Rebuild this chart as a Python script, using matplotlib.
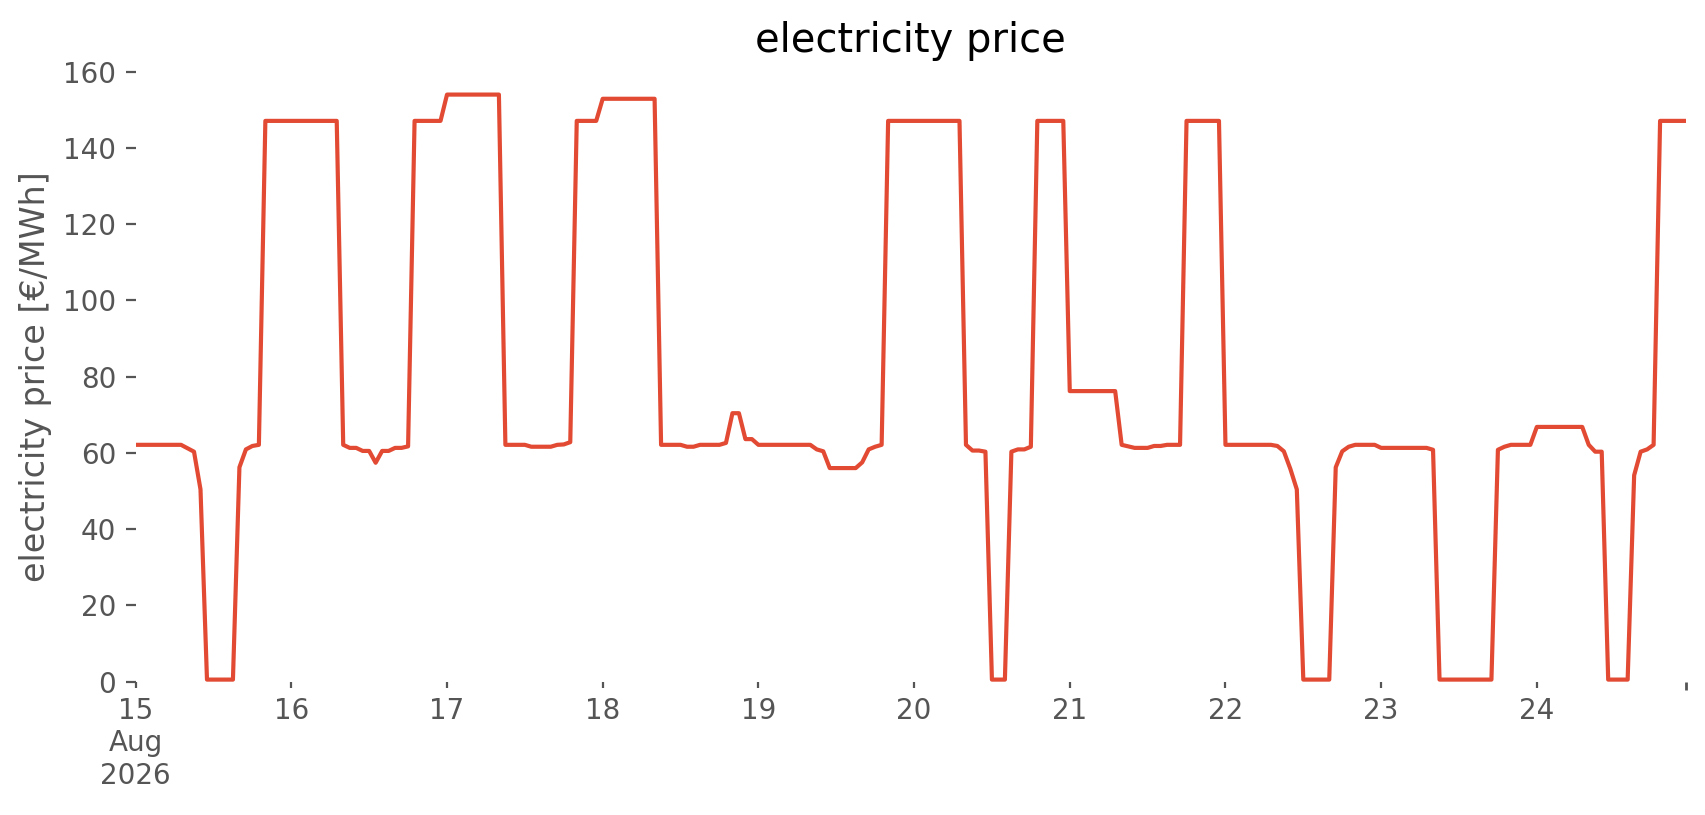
import numpy as np
import pandas as pd
import matplotlib
matplotlib.use("Agg")
import matplotlib.pyplot as plt
import matplotlib.dates as mdates

plt.style.use("ggplot")

# hourly price per day
aug15 = [62.1, 62.1, 62.1, 62.1, 62.1, 62.1, 62.1, 62.1, 61.2, 60.3, 50.4, 0.5,
         0.5, 0.5, 0.5, 0.5, 56.2, 60.9, 61.8, 62.1, 147.1, 147.1, 147.1, 147.1]
aug16 = [147.1, 147.1, 147.1, 147.1, 147.1, 147.1, 147.1, 147.1, 62.1, 61.3, 61.3, 60.5,
         60.5, 57.4, 60.5, 60.5, 61.3, 61.3, 61.7, 147.1, 147.1, 147.1, 147.1, 147.1]
aug17 = [154.0, 154.0, 154.0, 154.0, 154.0, 154.0, 154.0, 154.0, 154.0, 62.1, 62.1, 62.1,
         62.1, 61.6, 61.6, 61.6, 61.6, 62.1, 62.2, 62.8, 147.1, 147.1, 147.1, 147.1]
aug18 = [152.9, 152.9, 152.9, 152.9, 152.9, 152.9, 152.9, 152.9, 152.9, 62.1, 62.1, 62.1,
         62.1, 61.6, 61.6, 62.1, 62.1, 62.1, 62.1, 62.6, 70.4, 70.4, 63.6, 63.6]
aug19 = [62.1, 62.1, 62.1, 62.1, 62.1, 62.1, 62.1, 62.1, 62.1, 60.9, 60.4, 56.0,
         56.0, 56.0, 56.0, 56.0, 57.5, 60.9, 61.6, 62.1, 147.1, 147.1, 147.1, 147.1]
aug20 = [147.1, 147.1, 147.1, 147.1, 147.1, 147.1, 147.1, 147.1, 62.1, 60.6, 60.6, 60.3,
         0.5, 0.5, 0.5, 60.3, 60.9, 60.9, 61.6, 147.1, 147.1, 147.1, 147.1, 147.1]
aug21 = [76.2, 76.2, 76.2, 76.2, 76.2, 76.2, 76.2, 76.2, 62.1, 61.7, 61.3, 61.3,
         61.3, 61.8, 61.8, 62.1, 62.1, 62.1, 147.1, 147.1, 147.1, 147.1, 147.1, 147.1]
aug22 = [62.1, 62.1, 62.1, 62.1, 62.1, 62.1, 62.1, 62.1, 61.8, 60.4, 55.8, 50.4,
         0.5, 0.5, 0.5, 0.5, 0.5, 56.2, 60.4, 61.6, 62.1, 62.1, 62.1, 62.1]
aug23 = [61.3, 61.3, 61.3, 61.3, 61.3, 61.3, 61.3, 61.3, 60.8, 0.5, 0.5, 0.5,
         0.5, 0.5, 0.5, 0.5, 0.5, 0.5, 60.8, 61.6, 62.1, 62.1, 62.1, 62.1]
aug24 = [66.8, 66.8, 66.8, 66.8, 66.8, 66.8, 66.8, 66.8, 62.1, 60.3, 60.3, 0.5,
         0.5, 0.5, 0.5, 54.1, 60.3, 60.9, 62.1, 147.1, 147.1, 147.1, 147.1, 147.1]

price = aug15 + aug16 + aug17 + aug18 + aug19 + aug20 + aug21 + aug22 + aug23 + aug24
times = pd.date_range("2026-08-15 00:00", periods=len(price), freq="h")
day_labels = ["15\nAug\n2026", "16", "17", "18", "19", "20", "21", "22", "23", "24"]

fig = plt.figure(figsize=(8.53, 4.075), dpi=200, facecolor="white")
ax = fig.add_axes([0.0795, 0.1638, 0.9088, 0.7482])
ax.set_facecolor("white")
ax.grid(False)
for s in ax.spines.values():
    s.set_visible(False)

ax.plot(times, price, color="#E24A33", lw=1.5)

ax.set_xlim(times[0], times[-1])
ax.set_ylim(0, 160)
ax.set_yticks(np.arange(0, 161, 20))

days = pd.date_range("2026-08-15", periods=10, freq="D")
ax.set_xticks(mdates.date2num(days))
ax.set_xticklabels(day_labels)
ax.set_xticks([mdates.date2num(times[-1])], minor=True)
ax.tick_params(axis="x", which="major", length=2, width=0.8, colors="#555555", labelsize=10)
ax.tick_params(axis="x", which="minor", length=3, width=1.0, colors="#555555")
ax.tick_params(axis="y", length=3.5, width=0.8, colors="#555555", labelsize=10)

ax.set_ylabel("electricity price [€/MWh]", color="#555555", fontsize=12)
ax.set_title("electricity price", fontsize=14.4, color="black", pad=7.2)

fig.savefig("out.png", dpi=200, facecolor="white")
